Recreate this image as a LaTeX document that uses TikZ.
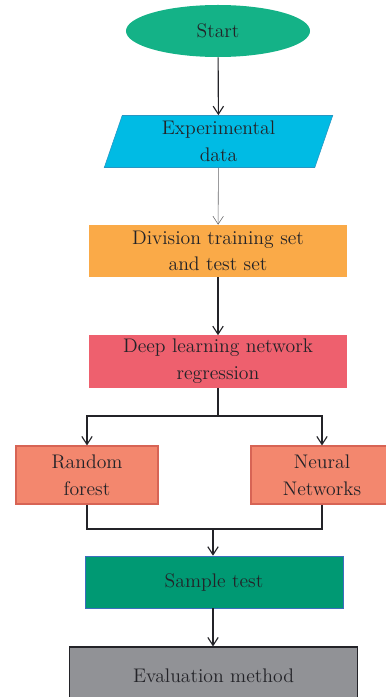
\documentclass[tikz,border=0pt]{standalone}
\usepackage{tikz}
\usetikzlibrary{arrows.meta,positioning,shapes.geometric}
\definecolor{startgreen}{RGB}{20,178,135}
\definecolor{sky}{RGB}{0,187,228}
\definecolor{skyline}{RGB}{40,150,195}
\definecolor{orange}{RGB}{250,170,72}
\definecolor{rose}{RGB}{238,96,110}
\definecolor{salmon}{RGB}{243,135,110}
\definecolor{salmonline}{RGB}{215,100,85}
\definecolor{teal}{RGB}{0,153,115}
\definecolor{tealline}{RGB}{60,110,190}
\definecolor{slate}{RGB}{145,146,150}
\definecolor{ink}{RGB}{35,35,40}
\tikzset{
  >={Straight Barb[length=2mm,width=2.6mm]},
  flow/.style={->,thick,draw=ink},
  wire/.style={thick,draw=ink},
  txt/.style={font=\fontsize{14}{19}\selectfont,text=ink,align=center},
  stepbox/.style={txt,fill=#1,minimum width=6.45cm,minimum height=1.3cm,inner sep=1pt},
  algo/.style={txt,fill=salmon,draw=salmonline,thick,minimum width=3.55cm,minimum height=1.45cm},
}
\begin{document}
\begin{tikzpicture}[x=0.025cm,y=-0.025cm]
  \clip (0,0) rectangle (386,697);
  \node[txt,ellipse,fill=startgreen,minimum width=4.6cm,minimum height=1.3cm] (start) at (218,31) {Start};
  \node[txt,trapezium,trapezium left angle=76,trapezium right angle=104,trapezium stretches=true,
    fill=sky,draw=skyline,minimum width=5.72cm,minimum height=1.3cm,inner sep=1pt] (data) at (218.5,141.5) {Experimental\\data};
  \node[stepbox=orange] (div) at (218,251) {Division training set\\and test set};
  \node[stepbox=rose] (deep) at (218,361.5) {Deep learning network\\regression};
  \node[algo] (rf) at (87,475) {Random\\forest};
  \node[algo] (nn) at (322,475) {Neural\\Networks};
  \node[stepbox=teal,draw=tealline] (st) at (214,582) {Sample test};
  \node[txt,fill=slate,draw=ink,thick,minimum width=7.2cm,minimum height=1.45cm] (eval) at (213.5,676) {Evaluation method};
  \coordinate (split) at (218,416);
  \coordinate (merge) at (213,529);
  % connectors
  \draw[flow] (start) -- (data);
  \draw[flow,thin,draw=ink!70] (data) -- (div);
  \draw[flow] (div) -- (deep);
  \draw[wire] (deep) -- (split);
  \draw[flow] (split) -| (rf);
  \draw[flow] (split) -| (nn);
  \draw[wire] (rf.south) |- (merge) -| (nn.south);
  \draw[flow] (merge) -- (merge |- st.north);
  \draw[flow] (st.south -| merge) -- (merge |- eval.north);
\end{tikzpicture}
\end{document}
